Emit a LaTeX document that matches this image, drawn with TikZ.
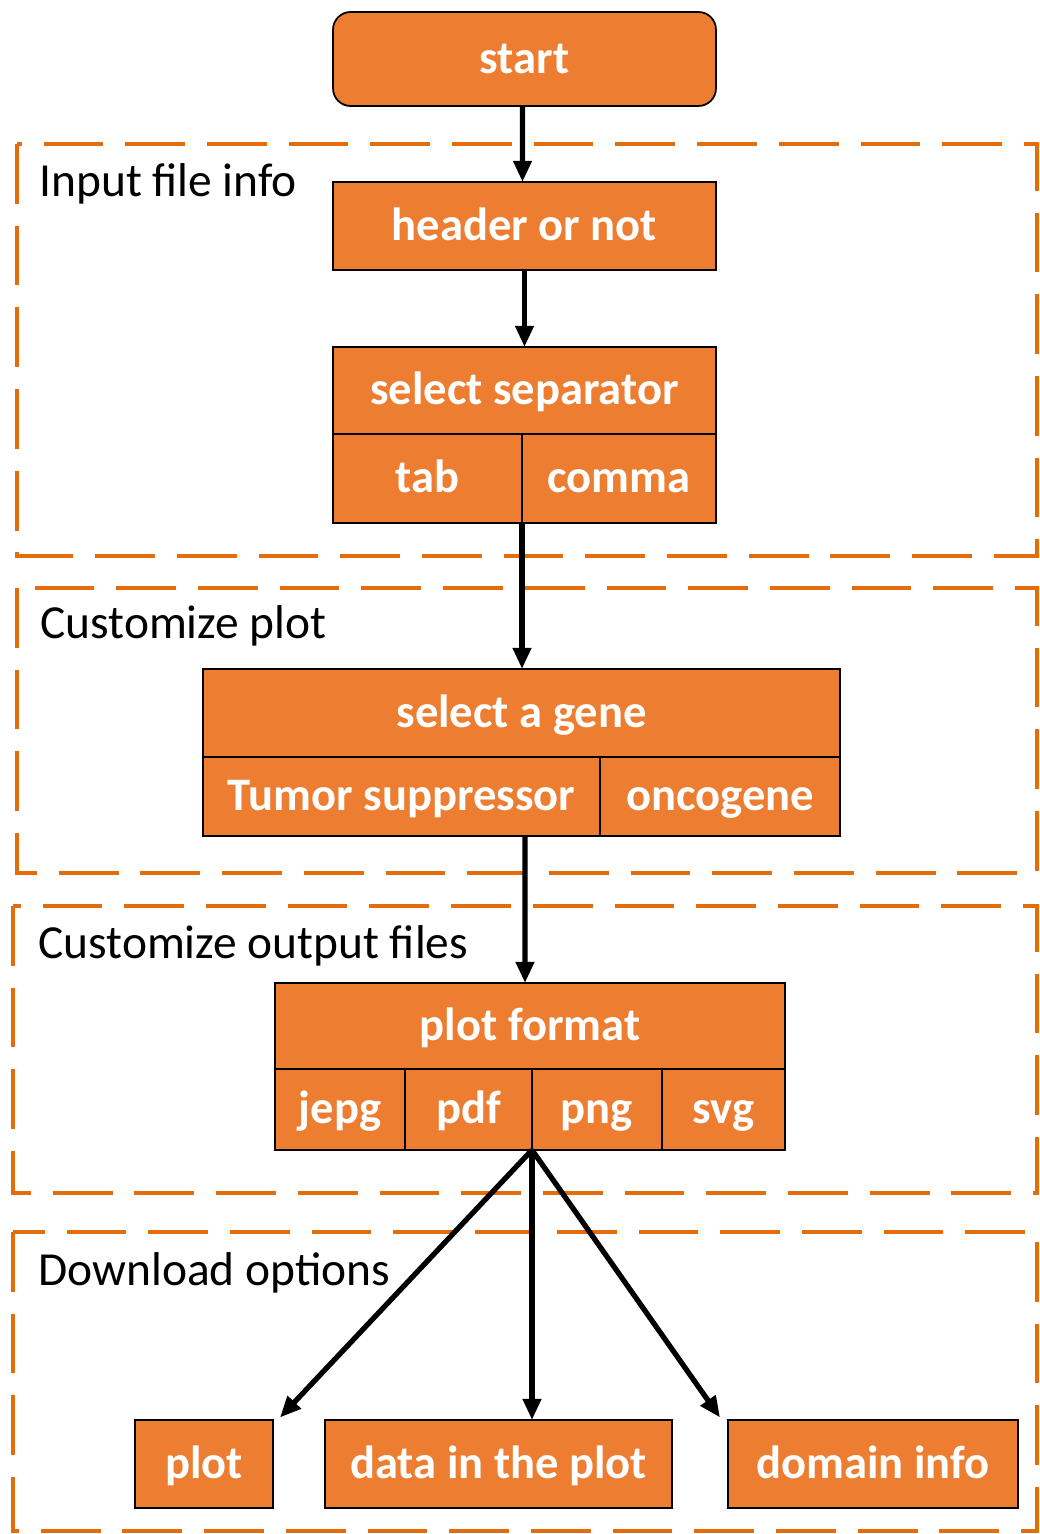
\documentclass[tikz,border=0pt]{standalone}
\usepackage{fontspec}
\setmainfont{Carlito}
\usepackage{tikz}
\usepackage{xcolor}
\usetikzlibrary{arrows.meta,positioning}

\definecolor{boxorange}{HTML}{ED7D31}
\definecolor{dashorange}{HTML}{E46C0A}

\begin{document}
\begin{tikzpicture}[x=0.02cm,y=-0.02cm,>={Triangle[length=12pt,width=10pt]}]

\tikzstyle{block}=[
  rectangle,
  draw=black,
  line width=1pt,
  fill=boxorange,
  text=white,
  outer sep=0pt,
  inner sep=0pt,
  text height=21pt,
  text depth=5pt,
  align=center,
  font=\fontsize{26.5}{30}\selectfont\bfseries
]
\tikzstyle{frame}=[
  draw=dashorange,
  line width=2.6pt,
  dash pattern=on 34pt off 12.5pt
]
\tikzstyle{framelabel}=[
  anchor=west,
  inner sep=0pt,
  font=\fontsize{27}{31}\selectfont
]
\tikzstyle{flow}=[->, line width=3pt]

\useasboundingbox (0,0) rectangle (1040,1534);

% Dashed groups
\draw[frame] (17,144) rectangle (1037,556);
\draw[frame] (17,588) rectangle (1037,873);
\draw[frame] (13,906) rectangle (1037,1193);
\draw[frame] (13,1232) rectangle (1037,1531);

\node[framelabel] (inlab) at (39,184) {Input file info};
\node[framelabel] (custlab) at (40,626) {Customize plot};
\node[framelabel] (outlab) at (38,946) {Customize output files};
\node[framelabel] (dllab) at (38,1273) {Download options};

% Steps
\node[block, rounded corners=10pt, minimum width=7.66cm, minimum height=1.88cm] (start)
  at (524.5,59) {start};

\node[block, minimum width=7.66cm, minimum height=1.76cm] (header)
  at (524.5,226) {header or not};

\node[block, minimum width=7.66cm, minimum height=1.74cm] (sep)
  at (524.5,390.5) {select separator};
\node[block, minimum width=3.78cm, minimum height=1.78cm,
  below right=0pt and 0pt of sep.south west] (tab) {tab};
\node[block, minimum width=3.88cm, minimum height=1.78cm,
  right=0pt of tab] (comma) {comma};

\node[block, minimum width=12.74cm, minimum height=1.76cm] (gene)
  at (521.5,713) {select a gene};
\node[block, minimum width=7.94cm, minimum height=1.58cm,
  below right=0pt and 0pt of gene.south west] (tumor) {Tumor suppressor};
\node[block, minimum width=4.8cm, minimum height=1.58cm,
  right=0pt of tumor] (onco) {oncogene};

\node[block, minimum width=10.2cm, minimum height=1.72cm] (fmt)
  at (530,1026) {plot format};
\node[block, minimum width=2.6cm, minimum height=1.62cm,
  below right=0pt and 0pt of fmt.south west] (jepg) {jepg};
\node[block, minimum width=2.54cm, minimum height=1.62cm,
  right=0pt of jepg] (pdf) {pdf};
\node[block, minimum width=2.6cm, minimum height=1.62cm,
  right=0pt of pdf] (png) {png};
\node[block, minimum width=2.46cm, minimum height=1.62cm,
  right=0pt of png] (svg) {svg};

\node[block, minimum width=2.76cm, minimum height=1.76cm] (plot)
  at (204,1464) {plot};
\node[block, minimum width=6.94cm, minimum height=1.76cm] (data)
  at (498.5,1464) {data in the plot};
\node[block, minimum width=5.8cm, minimum height=1.76cm] (domain)
  at (873,1464) {domain info};

% Vertical arrows
\draw[flow] (start.south -| header.north) ++(-2,0) -- ([xshift=-0.04cm]header.north);
\draw[flow] (header) -- (sep);
\draw[flow] (tab.south east) -- (tab.south east |- gene.north);
\draw[flow] (tumor.south -| fmt.north) ++(-5,0) -- ([xshift=-0.1cm]fmt.north);

% Download arrows
\draw[flow] (pdf.south east) -- ([xshift=0.14cm,yshift=0.05cm]plot.north east);
\draw[flow] (pdf.south east) -- (pdf.south east |- data.north);
\draw[flow] (pdf.south east) -- ([xshift=-0.16cm,yshift=0.05cm]domain.north west);

\end{tikzpicture}
\end{document}
